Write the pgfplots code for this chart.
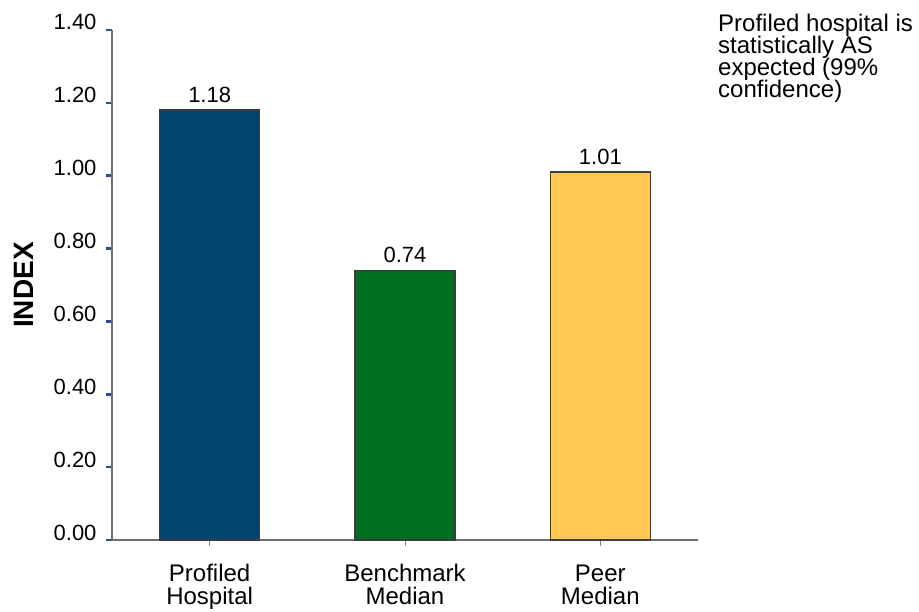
\documentclass[border=0pt]{standalone}
\usepackage{fontspec}
\setmainfont{Liberation Sans}
\usepackage{pgfplots}
\pgfplotsset{compat=1.18}
\definecolor{cblue}{RGB}{0,70,110}
\definecolor{cgreen}{RGB}{0,110,32}
\definecolor{cyellow}{RGB}{255,200,82}
\definecolor{barline}{RGB}{60,60,60}
\definecolor{axgray}{RGB}{110,110,110}
\definecolor{tickblue}{RGB}{40,80,140}
\definecolor{tickgray}{RGB}{120,140,170}
\newcommand\tf{\fontsize{22bp}{22bp}\selectfont}
\newcommand\vf{\fontsize{22bp}{22bp}\selectfont}
\newcommand\cf{\fontsize{24bp}{23bp}\selectfont}
\begin{document}
\begin{tikzpicture}
\path[use as bounding box] (0,0) rectangle (919bp,612bp);
\begin{axis}[
  at={(112bp,72bp)}, anchor=south west,
  scale only axis, width=586bp, height=510bp,
  xmin=-0.5, xmax=2.5, ymin=0, ymax=1.4,
  axis x line*=bottom, axis y line*=left,
  axis line style={draw=axgray, line width=1.5bp, -},
  ytick={0,0.2,0.4,0.6,0.8,1.0,1.2,1.4},
  yticklabel style={/pgf/number format/.cd, fixed, fixed zerofill, precision=2, /tikz/.cd, font=\tf, anchor=base east, xshift=-6bp},
  /pgf/number format/assume math mode=true,
  xtick={0,1,2},
  xticklabels={{Profiled\\Hospital},{Benchmark\\Median},{Peer\\Median}},
  xticklabel style={align=center, font=\cf, yshift=-15bp},
  tick align=outside, major tick length=6bp,
  y tick style={draw=tickblue, line width=2.5bp},
  x tick style={draw=tickgray, line width=1bp},
  ylabel={\textbf{INDEX}},
  ylabel style={at={(axis description cs:0,0.5)}, anchor=center, yshift=88bp, font=\fontsize{28bp}{28bp}\selectfont},
  clip=false,
  nodes near coords,
  every node near coord/.append style={font=\vf, inner sep=0pt, yshift=7bp, /pgf/number format/.cd, fixed, fixed zerofill, precision=2},
]
\addplot[ybar, bar shift=0pt, bar width=100bp, fill=cblue, draw=barline, line width=1.5bp] coordinates {(0,1.18)};
\addplot[ybar, bar shift=0pt, bar width=100bp, fill=cgreen, draw=barline, line width=1.5bp] coordinates {(1,0.74)};
\addplot[ybar, bar shift=0pt, bar width=100bp, fill=cyellow, draw=barline, line width=1.5bp] coordinates {(2,1.01)};
\end{axis}
\node[anchor=base west, inner sep=0pt, font=\cf] at (718bp,580bp) {Profiled hospital is};
\node[anchor=base west, inner sep=0pt, font=\cf] at (718bp,558bp) {statistically AS};
\node[anchor=base west, inner sep=0pt, font=\cf] at (718bp,536bp) {expected (99\%};
\node[anchor=base west, inner sep=0pt, font=\cf] at (718bp,514bp) {confidence)};
\end{tikzpicture}
\end{document}
